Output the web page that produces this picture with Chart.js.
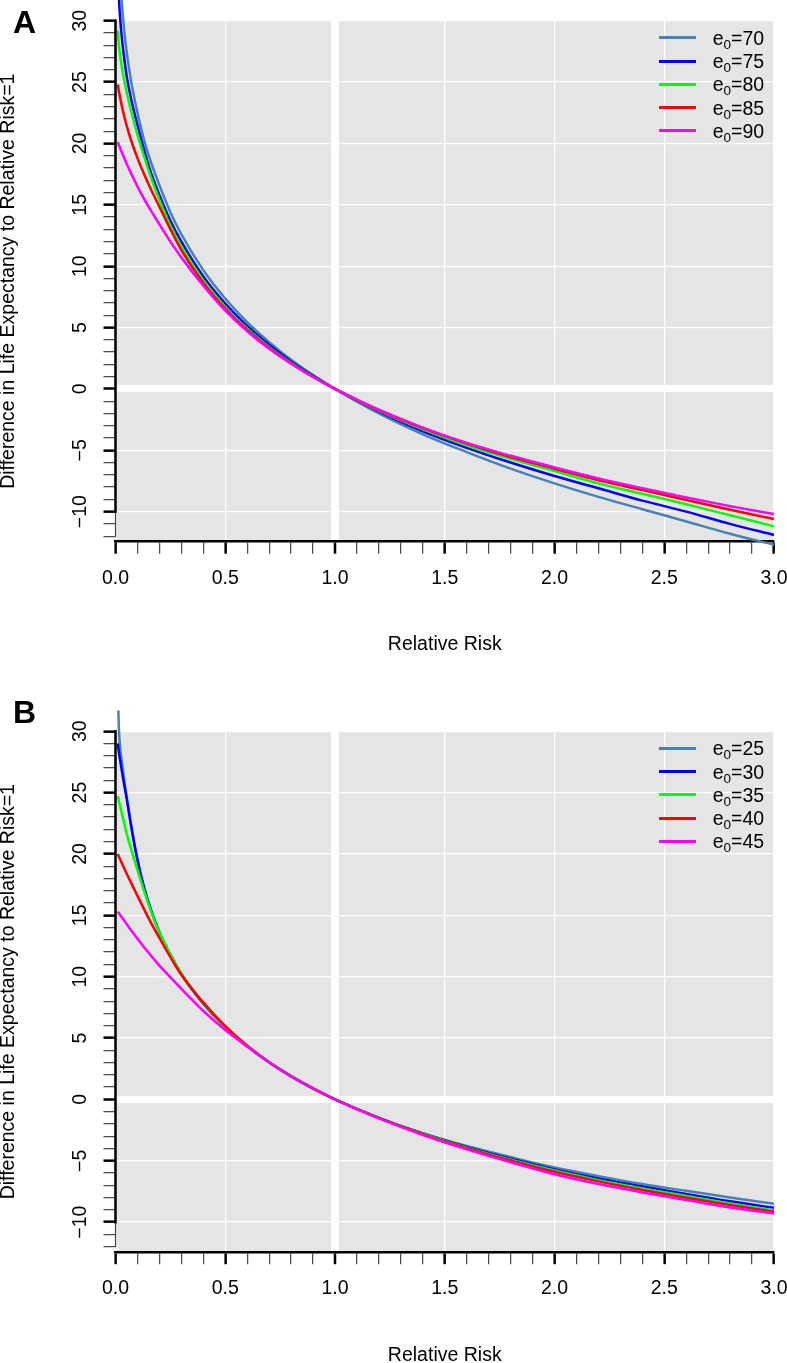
<!DOCTYPE html>
<html>
<head>
<meta charset="utf-8">
<script src="https://cdn.jsdelivr.net/npm/chart.js@4.4.1/dist/chart.umd.min.js"></script>
<style>
  html, body { margin: 0; padding: 0; background: #fff; overflow: hidden; width: 787px; height: 1363px; }
  .panel { position: absolute; left: 0; width: 787px; }
  .panel canvas { position: absolute; left: 0; top: 0; }
  .letter { position: absolute; font: bold 32px "Liberation Sans", Arial, sans-serif; line-height: 32px; color: #000; }
  .key-line { position: absolute; height: 3px; }
  .key-text { position: absolute; font: 19.5px "Liberation Sans", Arial, sans-serif; line-height: 22px; height: 22px; color: #000; white-space: nowrap; }
  .key-text sub { font-size: 13.5px; vertical-align: -4px; line-height: 0; }
</style>
</head>
<body>
<div class="panel" id="panelA" style="top:0px;height:681px">
  <canvas id="chartA" width="787" height="681"></canvas>
  <div class="letter" style="left:13px;top:6px">A</div>
</div>
<div class="panel" id="panelB" style="top:681px;height:700px">
  <canvas id="chartB" width="787" height="700"></canvas>
  <div class="letter" style="left:13px;top:15px">B</div>
</div>
<script>
const relRisk = [0.01, 0.015, 0.02, 0.03, 0.04, 0.05, 0.07, 0.1, 0.13, 0.16, 0.2, 0.25, 0.3, 0.4, 0.5,
                 0.6, 0.7, 0.8, 0.9, 1.0, 1.2, 1.4, 1.6, 1.8, 2.0, 2.2, 2.4, 2.6, 2.8, 3.0];

const seriesColors = ['#4682B4', '#0000FF', '#00FF00', '#FF0000', '#FF00FF'];

// panel A
const e0A = ['70', '75', '80', '85', '90'];
const diffA70 = [38.7, 36.0, 34.0, 31.2, 29.2, 27.6, 25.2, 22.5, 20.3, 18.55, 16.6, 14.4, 12.6, 9.68, 7.36,
                 5.44, 3.81, 2.38, 1.12, 0, -2.0, -3.7, -5.15, -6.5, -7.7, -8.8, -9.8, -10.8, -11.8, -12.7];
const diffA75 = [34.1, 32.0, 30.5, 28.4, 26.9, 25.6, 23.7, 21.5, 19.5, 17.7, 15.8, 13.7, 12.0, 9.16, 6.95,
                 5.14, 3.59, 2.24, 1.06, 0, -1.85, -3.45, -4.8, -6.0, -7.1, -8.1, -9.1, -10.0, -11.0, -11.9];
const diffA80 = [29.2, 28.1, 27.3, 26.1, 25.1, 24.25, 22.7, 20.7, 18.95, 17.3, 15.4, 13.3, 11.6, 8.83, 6.67,
                 4.9, 3.42, 2.13, 1.0, 0, -1.8, -3.3, -4.6, -5.7, -6.7, -7.7, -8.55, -9.4, -10.3, -11.2];
const diffA85 = [24.8, 24.3, 23.82, 22.95, 22.2, 21.5, 20.3, 18.8, 17.5, 16.3, 14.85, 13.0, 11.3, 8.63, 6.52,
                 4.8, 3.35, 2.09, 0.98, 0, -1.75, -3.2, -4.45, -5.55, -6.5, -7.45, -8.25, -9.05, -9.85, -10.6];
const diffA90 = [20.1, 19.88, 19.66, 19.22, 18.8, 18.39, 17.6, 16.49, 15.48, 14.56, 13.4, 12.0, 10.7, 8.4, 6.38,
                 4.7, 3.28, 2.05, 0.97, 0, -1.7, -3.15, -4.4, -5.45, -6.4, -7.3, -8.1, -8.85, -9.55, -10.2];

// panel B
const e0B = ['25', '30', '35', '40', '45'];
const diffB25 = [33.8, 30.4, 28.9, 27.4, 26.0, 24.8, 22.5, 19.55, 17.3, 15.55, 13.65, 11.8, 10.25, 7.85, 5.95,
                 4.36, 3.02, 1.88, 0.89, 0, -1.5, -2.75, -3.8, -4.7, -5.55, -6.25, -6.9, -7.45, -8.0, -8.5];
const diffB30 = [29.0, 28.35, 27.75, 26.65, 25.6, 24.6, 22.4, 19.5, 17.25, 15.5, 13.6, 11.75, 10.2, 7.8, 5.9,
                 4.33, 3.0, 1.87, 0.88, 0, -1.5, -2.78, -3.87, -4.84, -5.7, -6.45, -7.1, -7.7, -8.3, -8.83];
const diffB35 = [24.7, 24.33, 23.96, 23.2, 22.45, 21.7, 20.45, 18.7, 17.0, 15.4, 13.62, 11.8, 10.25, 7.83, 5.92,
                 4.34, 3.01, 1.88, 0.89, 0, -1.52, -2.8, -3.93, -4.92, -5.8, -6.58, -7.25, -7.87, -8.48, -9.05];
const diffB40 = [20.0, 19.8, 19.6, 19.2, 18.81, 18.43, 17.68, 16.58, 15.5, 14.45, 13.15, 11.6, 10.15, 7.88, 5.97,
                 4.37, 3.02, 1.89, 0.9, 0, -1.53, -2.83, -3.97, -4.98, -5.9, -6.68, -7.38, -8.02, -8.6, -9.15];
const diffB45 = [15.3, 15.17, 15.05, 14.8, 14.55, 14.3, 13.8, 13.1, 12.4, 11.75, 10.9, 9.95, 9.0, 7.2, 5.65,
                 4.3, 3.02, 1.9, 0.92, 0, -1.55, -2.9, -4.07, -5.12, -6.1, -6.9, -7.58, -8.2, -8.8, -9.3];

const yMin = -12.45, yMax = 30;

Chart.defaults.font.family = '"Liberation Sans", Arial, Helvetica, sans-serif';
Chart.defaults.font.size = 19.5;
Chart.defaults.color = '#000';

const isMajorX = (v) => Math.abs(v * 2 - Math.round(v * 2)) < 1e-6;
const isMajorY = (v) => Math.abs(v % 5) < 1e-6;
const minus = (v) => (v < 0 ? '\u2212' + Math.abs(v) : String(v));

// grey panel behind the grid, R style axis line on the left
const panelDecor = {
  id: 'panelDecor',
  beforeDraw(chart) {
    const { ctx, chartArea: a } = chart;
    ctx.save();
    ctx.fillStyle = '#E5E5E5';
    ctx.fillRect(a.left, a.top, a.right - a.left, a.bottom - a.top);
    ctx.restore();
  },
  afterDraw(chart) {
    const { ctx, chartArea: a, scales: { y } } = chart;
    ctx.save();
    ctx.lineCap = 'butt';
    ctx.strokeStyle = '#444';
    ctx.lineWidth = 1.2;
    ctx.beginPath();
    ctx.moveTo(a.left, y.getPixelForValue(30));
    ctx.lineTo(a.left, y.getPixelForValue(-12));
    ctx.stroke();
    ctx.strokeStyle = '#000';
    ctx.lineWidth = 2.5;
    ctx.beginPath();
    ctx.moveTo(a.left, y.getPixelForValue(30) - 1.25);
    ctx.lineTo(a.left, y.getPixelForValue(-10) + 1.25);
    ctx.stroke();
    ctx.restore();
  }
};

function makePanel(canvasId, hostId, series, ages, geo) {
  const datasets = series.map((values, i) => ({
    label: 'e\u2080=' + ages[i],
    data: relRisk.map((x, j) => ({ x: x, y: values[j] })),
    borderColor: seriesColors[i],
    backgroundColor: seriesColors[i],
    borderWidth: 2.5,
    pointRadius: 0,
    cubicInterpolationMode: 'monotone',
    clip: { left: false, top: 20.8, right: false, bottom: false }, // curves run a little over the panel top
    order: series.length - i // last series on top, like R
  }));

  const chart = new Chart(document.getElementById(canvasId), {
    type: 'line',
    data: { datasets: datasets },
    plugins: [panelDecor],
    options: {
      responsive: false,
      animation: false,
      layout: { padding: { top: geo.top, right: 13, left: 0, bottom: 0 } },
      plugins: { legend: { display: false }, tooltip: { enabled: false } },
      scales: {
        x: {
          type: 'linear',
          min: 0,
          max: 3,
          afterFit: (s) => {
            s.height = geo.height - geo.bottom;
            s.paddingLeft = 0;
            s.paddingRight = 0;
          },
          border: { display: true, color: '#000', width: 2.5 },
          grid: {
            color: (c) => (c.tick && isMajorX(c.tick.value) ? '#FFFFFF' : 'rgba(0,0,0,0)'),
            lineWidth: (c) => (c.tick && Math.abs(c.tick.value - 1) < 1e-6 ? 8 : 1.3),
            drawTicks: true,
            tickLength: 12,
            tickColor: (c) => (c.tick && isMajorX(c.tick.value) ? '#000' : '#444'),
            tickWidth: (c) => (c.tick && isMajorX(c.tick.value) ? 2.5 : 1.2)
          },
          ticks: {
            stepSize: 0.1,
            autoSkip: false,
            maxRotation: 0,
            padding: 13,
            color: '#000',
            callback: (v) => (isMajorX(v) ? Number(v).toFixed(1) : '')
          },
          title: {
            display: true,
            text: 'Relative Risk',
            color: '#000',
            font: { size: 19.5, lineHeight: 1 },
            padding: { top: 0, bottom: geo.height - geo.titleY - 9.75 }
          }
        },
        y: {
          type: 'linear',
          min: yMin,
          max: yMax,
          afterFit: (s) => { s.width = 115.5; },
          border: { display: false },
          grid: {
            color: (c) => (c.tick && isMajorY(c.tick.value) ? '#FFFFFF' : 'rgba(0,0,0,0)'),
            lineWidth: (c) => (c.tick && c.tick.value === 0 ? 7 : 1.3),
            drawTicks: true,
            tickLength: 12,
            tickColor: (c) => (c.tick && isMajorY(c.tick.value) && c.tick.value >= -10 ? '#000' : '#444'),
            tickWidth: (c) => (c.tick && isMajorY(c.tick.value) && c.tick.value >= -10 ? 2.5 : 1.2)
          },
          ticks: {
            stepSize: 1,
            includeBounds: false,
            autoSkip: false,
            minRotation: 90,
            maxRotation: 90,
            crossAlign: 'center',
            padding: 6,
            color: '#000',
            callback: (v) => (isMajorY(v) ? minus(v) : '')
          },
          title: {
            display: true,
            text: 'Difference in Life Expectancy to Relative Risk=1',
            color: '#000',
            font: { size: 19.5, lineHeight: 0.9 },
            padding: 0
          }
        }
      }
    }
  });

  // legend in the top right corner of the grey panel, built from the datasets
  const host = document.getElementById(hostId);
  const a = chart.chartArea;
  chart.data.datasets.forEach((ds, i) => {
    const rowY = a.top + 17 + 23.3 * i;
    const line = document.createElement('div');
    line.className = 'key-line';
    line.style.left = (a.right - 115.3) + 'px';
    line.style.width = '37.3px';
    line.style.top = (rowY - 1.5) + 'px';
    line.style.background = ds.borderColor;
    host.appendChild(line);
    const text = document.createElement('div');
    text.className = 'key-text';
    text.style.left = (a.right - 61.3) + 'px';
    text.style.top = (rowY - 11) + 'px';
    text.innerHTML = 'e<sub>0</sub>=' + ages[i];
    host.appendChild(text);
  });
  return chart;
}

makePanel('chartA', 'panelA', [diffA70, diffA75, diffA80, diffA85, diffA90], e0A,
  { height: 681, top: 20.7, bottom: 541.7, titleY: 645 });
makePanel('chartB', 'panelB', [diffB25, diffB30, diffB35, diffB40, diffB45], e0B,
  { height: 700, top: 50.2, bottom: 571.2, titleY: 675 });
</script>
</body>
</html>
